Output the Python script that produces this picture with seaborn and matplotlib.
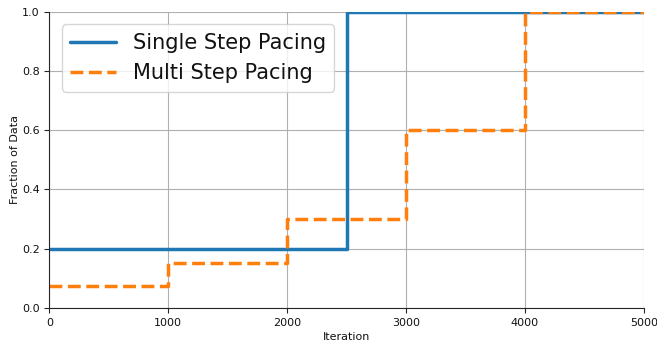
import matplotlib
matplotlib.use("Agg")
import matplotlib.pyplot as plt
import seaborn as sns
import pandas as pd

# Data fraction schedules over training iterations
single_iters = [0, 2500, 5000]
single_frac = [0.2, 1.0, 1.0]
multi_iters = [0, 1000, 2000, 3000, 4000, 5000]
multi_frac = [0.075, 0.15, 0.3, 0.6, 1.0, 1.0]

sns.set_style("ticks")
plt.rcParams["font.family"] = ["DejaVu Sans"]

fig, ax = plt.subplots(figsize=(6.57, 3.42), dpi=100)
fig.subplots_adjust(left=0.075, right=0.98, top=0.965, bottom=0.1)

single_df = pd.DataFrame({"Iteration": single_iters, "Fraction": single_frac})
multi_df = pd.DataFrame({"Iteration": multi_iters, "Fraction": multi_frac})

sns.lineplot(data=single_df, x="Iteration", y="Fraction", ax=ax,
             drawstyle="steps-post", color="#1f77b4", linewidth=2.5,
             label="Single Step Pacing")
sns.lineplot(data=multi_df, x="Iteration", y="Fraction", ax=ax,
             drawstyle="steps-post", color="#ff7f0e", linewidth=2.5,
             linestyle="--", label="Multi Step Pacing")

ax.set_xlim(0, 5000)
ax.set_ylim(0, 1.0)
ax.set_xticks([0, 1000, 2000, 3000, 4000, 5000])
ax.set_yticks([0.0, 0.2, 0.4, 0.6, 0.8, 1.0])
ax.tick_params(labelsize=8, labelcolor="#111111")
ax.set_xlabel("Iteration", fontsize=8, color="#111111", labelpad=3)
ax.set_ylabel("Fraction of Data", fontsize=8, color="#111111", labelpad=1)
ax.grid(True, color="#b0b0b0", linewidth=0.8)
sns.despine(ax=ax)
leg = ax.legend(loc="upper left", fontsize=15, handlelength=2.2, borderaxespad=0.6)
for t in leg.get_texts():
    t.set_color("#111111")

fig.savefig("out.png", dpi=100)
